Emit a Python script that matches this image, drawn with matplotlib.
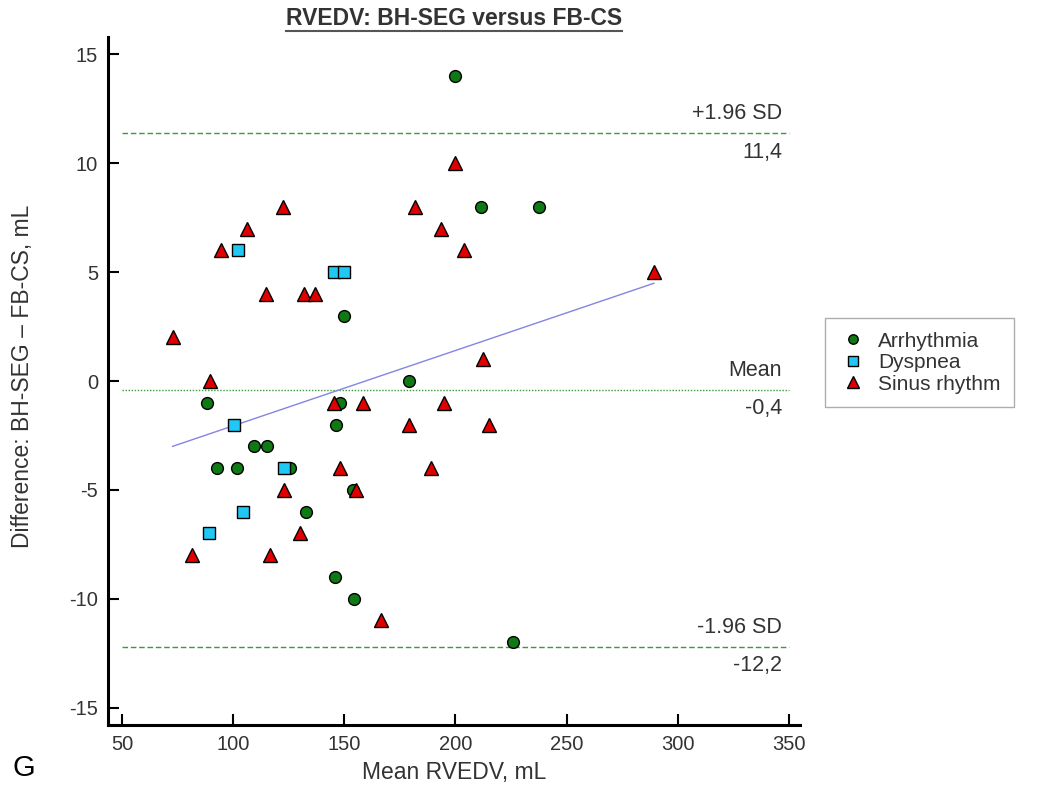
import matplotlib
matplotlib.use('Agg')
import matplotlib.pyplot as plt
from matplotlib.lines import Line2D
import numpy as np

plt.rcParams['axes.unicode_minus'] = False

# --- data ---------------------------------------------------------------
arr_x = [200, 211.7, 237.4, 150, 179.3, 88.2, 147.9, 146.4, 109.2, 115.2,
         92.9, 101.6, 125.4, 153.9, 132.6, 146, 154.5, 225.8]
arr_y = [14, 8, 8, 3, 0, -1, -1, -2, -3, -3, -4, -4, -4, -5, -6, -9, -10, -12]

dys_x = [102.4, 145.5, 150, 100.6, 123, 104.4, 89.3]
dys_y = [6, 5, 5, -2, -4, -6, -7]

sin_x = [200, 122.4, 182, 106.2, 193.7, 94.6, 204, 289.3, 114.7, 131.7,
         136.9, 72.8, 212.5, 89.6, 145.2, 158.4, 194.7, 179.3, 215, 148.2,
         189, 123, 155.4, 129.9, 81.7, 116.4, 166.5]
sin_y = [10, 8, 8, 7, 7, 6, 6, 5, 4, 4, 4, 2, 1, 0, -1, -1, -1, -2, -2, -4,
         -4, -5, -5, -7, -8, -8, -11]

mean_diff = -0.4
upper_loa = 11.4
lower_loa = -12.2
reg_slope = 0.0346
reg_icpt = -5.52

x_ticks = [50, 100, 150, 200, 250, 300, 350]
y_ticks = [-15, -10, -5, 0, 5, 10, 15]

FONT = ['Liberation Sans', 'DejaVu Sans']
TXT = '#333333'

fig = plt.figure(figsize=(10.43, 7.98), dpi=100)
ax = fig.add_axes([0.1035, 0.0915, 0.6635, 0.8621])

# limit-of-agreement and mean lines
ax.plot([50, 350], [upper_loa, upper_loa], color='#3c9a3c', lw=1.0,
        ls=(0, (4, 2)))
ax.plot([50, 350], [lower_loa, lower_loa], color='#3c9a3c', lw=1.0,
        ls=(0, (4, 2)))
ax.plot([50, 350], [mean_diff, mean_diff], color='#3c9a3c', lw=1.0,
        ls=(0, (1, 1.2)))

# regression of difference on mean
all_x = arr_x + dys_x + sin_x
rx = np.array([min(all_x), max(all_x)])
ax.plot(rx, reg_icpt + reg_slope * rx, color='#8484e4', lw=1.0)

mk = dict(ls='none', mec='black', mew=1.0)
ax.plot(arr_x, arr_y, marker='o', ms=8.5, mfc='#0f7a14', label='Arrhythmia', **mk)
ax.plot(dys_x, dys_y, marker='s', ms=8.5, mfc='#22c8f4', label='Dyspnea', **mk)
ax.plot(sin_x, sin_y, marker='^', ms=10, mfc='#e00000', label='Sinus rhythm', **mk)

# labels on the reference lines
lx = 347
for val, top, bot in [(upper_loa, '+1.96 SD', '11,4'),
                      (mean_diff, 'Mean', '-0,4'),
                      (lower_loa, '-1.96 SD', '-12,2')]:
    ax.text(lx, val + 0.4, top, ha='right', va='bottom', fontsize=15.5,
            color=TXT, family=FONT)
    ax.text(lx, val - 0.4, bot, ha='right', va='top', fontsize=15.5,
            color=TXT, family=FONT)

ax.set_xlim(43.7, 355)
ax.set_ylim(-15.8, 15.8)
ax.set_xticks(x_ticks)
ax.set_yticks(y_ticks)
for s in ['top', 'right']:
    ax.spines[s].set_visible(False)
for s in ['left', 'bottom']:
    ax.spines[s].set_linewidth(2.2)
ax.tick_params(direction='in', length=8, width=1.5, labelsize=14.5,
               labelcolor=TXT, pad=7)
for lab in ax.get_xticklabels() + ax.get_yticklabels():
    lab.set_family(FONT)

ax.set_xlabel('Mean RVEDV, mL', fontsize=16.5, color=TXT, family=FONT,
              labelpad=5)
fig.text(0.022, 0.529, 'Difference: BH-SEG \u2013 FB-CS, mL', rotation=90,
         ha='center', va='center', fontsize=16.5, color=TXT, family=FONT)

title = ax.set_title('RVEDV: BH-SEG versus FB-CS', fontsize=16.5,
                     fontweight='bold', color=TXT, family=FONT, pad=9)
fig.text(0.012, 0.028, 'G', fontsize=21, color='black', family=FONT)

leg = fig.legend(loc='upper left', bbox_to_anchor=(0.791, 0.6015),
                 borderaxespad=0, frameon=True, fancybox=False,
                 handletextpad=0.5, handlelength=1.4, borderpad=0.65,
                 labelspacing=0.12, markerscale=0.8,
                 prop={'family': FONT, 'size': 15})
leg.get_frame().set_edgecolor('#999999')
leg.get_frame().set_linewidth(1.0)
for t in leg.get_texts():
    t.set_color(TXT)

# underline the title
fig.canvas.draw()
bb = title.get_window_extent().transformed(fig.transFigure.inverted())
fig.add_artist(Line2D([bb.x0, bb.x1], [bb.y0 - 0.002, bb.y0 - 0.002],
                      transform=fig.transFigure, color='#555555', lw=1.5))

fig.savefig('out.png', dpi=100)
